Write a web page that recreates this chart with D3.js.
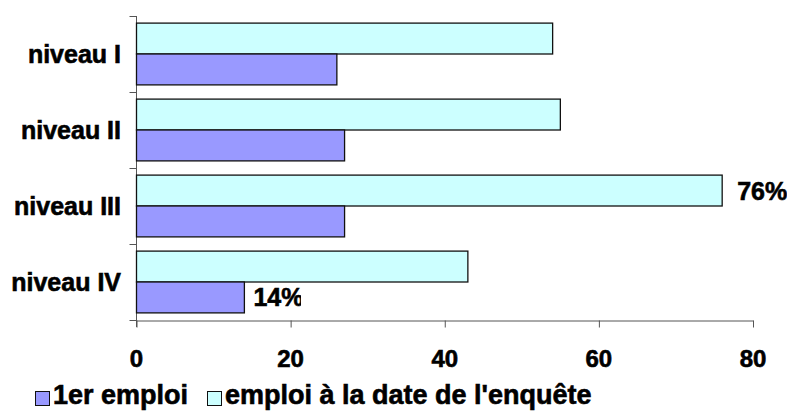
<!DOCTYPE html>
<html>
<head>
<meta charset="utf-8">
<script src="https://cdn.jsdelivr.net/npm/d3@7"></script>
<style>
  body { margin: 0; background: #fff; }
  text { font-family: "Liberation Sans", Arial, sans-serif; font-weight: bold; fill: #000; stroke: #000; stroke-width: 0.6px; }
</style>
</head>
<body>
<svg id="chart"></svg>
<script>
// barres horizontales groupées, niveaux I a IV
const width = 787, height = 412;

const categories = ["niveau I", "niveau II", "niveau III", "niveau IV"];
const series = ["emploi à la date de l'enquête", "1er emploi"];
const premierEmploi = [26, 27, 27, 14];
const emploiEnquete = [54, 55, 76, 43];
const xTicks = [0, 20, 40, 60, 80];
// etiquettes affichees sur quelques barres seulement
const labels = [
  {cat: "niveau III", serie: "emploi à la date de l'enquête", value: 76, text: "76%"},
  {cat: "niveau IV", serie: "1er emploi", value: 14, text: "14%"}
];

const colors = {"1er emploi": "#9999FF", "emploi à la date de l'enquête": "#CCFFFF"};

let data = categories.map((c, i) => ({
  cat: c,
  values: [
    {serie: series[0], value: emploiEnquete[i]},
    {serie: series[1], value: premierEmploi[i]}
  ]
}));

let svg = d3.select("#chart").attr("width", width).attr("height", height);

let x = d3.scaleLinear().domain([0, 80]).range([136.5, 753]);
let y0 = d3.scaleBand().domain(categories).range([16, 320]);
let y1 = d3.scaleBand().domain(series).range([0, y0.bandwidth()]).paddingOuter(0.23);

// axe x
let xAxis = svg.append("g")
  .attr("transform", "translate(0,320.5)")
  .call(d3.axisBottom(x).tickValues(xTicks).tickSize(7).tickSizeOuter(0).tickFormat(""));
xAxis.select(".domain").attr("stroke", "#555");
xAxis.selectAll(".tick line").attr("stroke", "#555");

svg.selectAll(".xlab")
  .data(xTicks)
  .enter()
  .append("text")
  .attr("class", "xlab")
  .attr("x", d => x(d))
  .attr("y", 367)
  .attr("text-anchor", "middle")
  .style("font-size", "24px")
  .text(d => d);

// axe y avec graduations entre categories
let bounds = categories.map(c => y0(c)).concat([y0.range()[1]]);
svg.append("line")
  .attr("x1", x(0)).attr("x2", x(0))
  .attr("y1", y0.range()[0]).attr("y2", y0.range()[1] + 7)
  .attr("stroke", "#555");
svg.selectAll(".ytick")
  .data(bounds)
  .enter()
  .append("line")
  .attr("x1", x(0) - 7).attr("x2", x(0))
  .attr("y1", d => Math.round(d) + 0.5).attr("y2", d => Math.round(d) + 0.5)
  .attr("stroke", "#555");

svg.selectAll(".ylab")
  .data(categories)
  .enter()
  .append("text")
  .attr("x", 121)
  .attr("y", d => y0(d) + y0.bandwidth() / 2)
  .attr("dy", "0.36em")
  .attr("text-anchor", "end")
  .style("font-size", "25px")
  .text(d => d);

// barres
let groups = svg.selectAll(".grp")
  .data(data)
  .enter()
  .append("g")
  .attr("transform", d => `translate(0,${y0(d.cat)})`);

groups.selectAll("rect")
  .data(d => d.values)
  .enter()
  .append("rect")
  .attr("x", x(0))
  .attr("y", d => y1(d.serie))
  .attr("width", d => x(d.value) - x(0))
  .attr("height", y1.bandwidth())
  .style("fill", d => colors[d.serie])
  .style("stroke", "#111")
  .style("stroke-width", 1.3);

// etiquettes (le 14% est coupe dans l'original)
svg.append("clipPath").attr("id", "cut14")
  .append("rect").attr("x", 0).attr("y", 0).attr("width", 301).attr("height", height);

let offsets = {"76%": 15, "14%": 9};
svg.selectAll(".dlab")
  .data(labels)
  .enter()
  .append("text")
  .attr("x", d => x(d.value) + offsets[d.text])
  .attr("y", d => y0(d.cat) + y1(d.serie) + y1.bandwidth() / 2)
  .attr("dy", "0.36em")
  .attr("clip-path", d => d.text == "14%" ? "url(#cut14)" : null)
  .style("font-size", "25px")
  .text(d => d.text);

// legende
let legendItems = [
  {serie: "1er emploi", x: 35},
  {serie: "emploi à la date de l'enquête", x: 207}
];
let leg = svg.selectAll(".leg")
  .data(legendItems)
  .enter()
  .append("g")
  .attr("transform", d => `translate(${d.x},391)`);
leg.append("rect")
  .attr("x", 0.5).attr("y", 0.5)
  .attr("width", 14).attr("height", 14)
  .style("fill", d => colors[d.serie])
  .style("stroke", "#111");
leg.append("text")
  .attr("x", 18)
  .attr("y", 13)
  .style("font-size", "27px")
  .text(d => d.serie);
</script>
</body>
</html>
